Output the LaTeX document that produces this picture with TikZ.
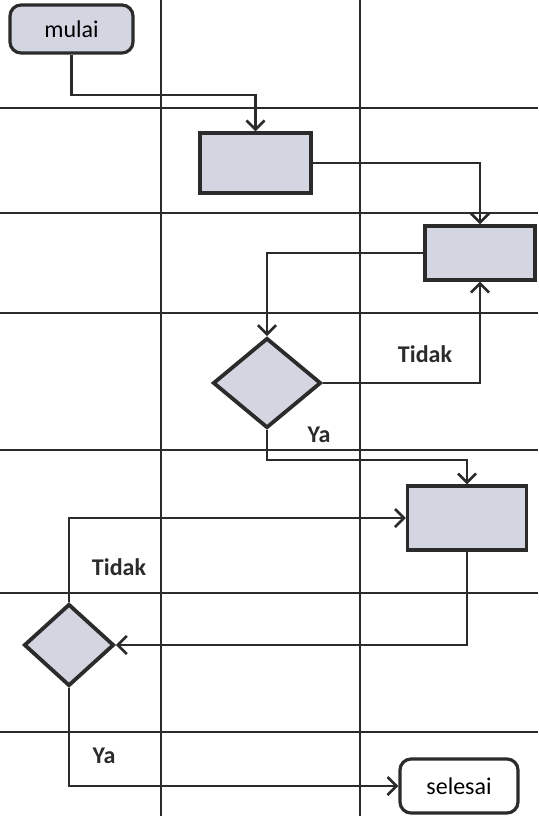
\documentclass[tikz,border=0pt]{standalone}
\usepackage{fontspec}
\setmainfont{Carlito}
\usepackage{tikz}
\usetikzlibrary{arrows.meta,positioning,shapes.geometric}

\definecolor{boxfill}{HTML}{D3D6E0}
\definecolor{ink}{HTML}{2B2B2B}

\begin{document}
\begin{tikzpicture}[
  x=1pt, y=-1pt,
  font=\fontsize{24}{28}\selectfont,
  term/.style={rectangle,draw=ink,line width=3.2pt,rounded corners=11pt,inner sep=0pt},
  proc/.style={rectangle,draw=ink,line width=3.2pt,fill=boxfill,inner sep=0pt},
  dec/.style={diamond,draw=ink,line width=3.8pt,fill=boxfill,inner sep=0pt},
  lane/.style={draw=ink,line width=2pt},
  flow/.style={draw=ink,line width=2.7pt,-{Straight Barb[length=9pt,width=18pt,line width=2.7pt]}},
  lbl/.style={text=ink,font=\fontsize{24}{28}\selectfont\bfseries}]
\useasboundingbox (0,0) rectangle (538,816);
% swimlane grid
\foreach \y in {108,213,313,450,593,732}
  \draw[lane] (0,\y) -- (538,\y);
\foreach \x in {161,360}
  \draw[lane] (\x,0) -- (\x,816);
% nodes
\node[term,fill=boxfill,minimum width=123pt,minimum height=48pt] (mulai) at (71.5,29) {mulai};
\node[proc,minimum width=111pt,minimum height=60pt] (box1) at (255.5,163) {};
\node[proc,minimum width=110pt,minimum height=54pt] (box2) at (480,253) {};
\node[dec,minimum width=108pt,minimum height=90pt] (dec1) at (267,383) {};
\node[proc,minimum width=119pt,minimum height=64pt] (box3) at (467,518) {};
\node[dec,minimum width=90pt,minimum height=82pt] (dec2) at (69,645) {};
\node[term,fill=white,minimum width=118pt,minimum height=54pt] (selesai) at (459,786) {selesai};
% labels
\node[lbl] (tidak1) at (425,354) {Tidak};
\node[lbl] (ya1) at (319,435) {Ya};
\node[lbl] (tidak2) at (119,567) {Tidak};
\node[lbl] (ya2) at (104,756) {Ya};
% connectors
\draw[flow] (mulai.south) -- (mulai.south |- 0,95) -| (box1.north);
\draw[flow] (box1.east) -| (box2.north);
\draw[flow] (box2.west) -| (dec1.north);
\draw[flow] (dec1.east) -| (box2.south);
\draw[flow] (dec1.south) -- (dec1.south |- 0,460) -| (box3.north);
\draw[flow] (dec2.north) |- (box3.west);
\draw[flow] (box3.south) |- (dec2.east);
\draw[flow] (dec2.south) |- (selesai.west);
\end{tikzpicture}
\end{document}
